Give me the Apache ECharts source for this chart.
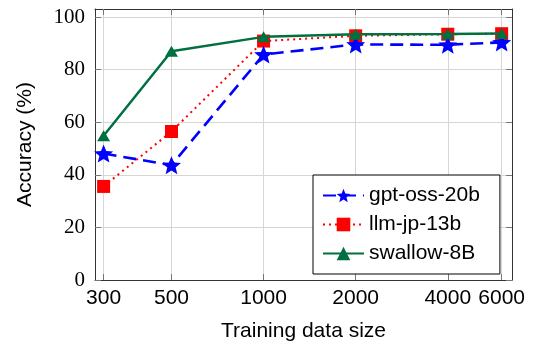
<!DOCTYPE html>
<html>
<head>
<meta charset="utf-8">
<script src="https://cdn.jsdelivr.net/npm/echarts@6/dist/echarts.min.js"></script>
<style>
    html, body { margin: 0; padding: 0; background: #fff; }
    #chart { width: 533px; height: 347px; }
</style>
</head>
<body>
<div id="chart"></div>
<script>
    // training data sizes (x, log scale) and accuracy per model
    const sizes = [300, 500, 1000, 2000, 4000, 6000];
    const gptOss = [48.1, 43.7, 85.8, 89.6, 89.5, 90.4];
    const llmJp = [35.6, 56.5, 90.9, 92.9, 93.5, 93.7];
    const swallow = [54.9, 87.0, 92.5, 93.5, 93.6, 93.8];
    const yTicks = [0, 20, 40, 60, 80, 100];

    const logSizes = sizes.map(v => Math.log10(v));
    const xMin = 2.449, xMax = 3.812;
    const yMin = 0, yMax = 103.1;

    const starPath = 'path://M0,-10L2.6,-3.5L9.51,-3.09L4.2,1.4L5.88,8.09L0,4.4L-5.88,8.09L-4.2,1.4L-9.51,-3.09L-2.6,-3.5Z';
    const sans = 'Liberation Sans';
    const serif = 'Liberation Serif';

    const toPoints = vals => vals.map((v, i) => [logSizes[i], v]);

    const tickStyle = {
        show: true,
        inside: true,
        length: 6,
        lineStyle: { color: '#777', width: 1 }
    };
    const borderLine = { show: true, onZero: false, lineStyle: { color: '#333', width: 1 } };

    const chart = echarts.init(document.getElementById('chart'));
    chart.setOption({
        animation: false,
        grid: { left: 95, right: 21, top: 9, bottom: 64, containLabel: false },
        legend: {
            orient: 'vertical',
            left: 313,
            top: 175,
            backgroundColor: '#fff',
            borderColor: '#000',
            borderWidth: 1,
            borderRadius: 0,
            padding: [10, 20, 10, 9],
            itemGap: 8,
            itemWidth: 41,
            itemHeight: 17,
            textStyle: { fontFamily: sans, fontSize: 21, color: '#000' },
            data: ['gpt-oss-20b', 'llm-jp-13b', 'swallow-8B']
        },
        xAxis: [{
            type: 'value',
            min: xMin,
            max: xMax,
            name: 'Training data size',
            nameLocation: 'middle',
            nameGap: 41,
            nameTextStyle: { fontFamily: sans, fontSize: 21, color: '#000' },
            axisLine: borderLine,
            axisTick: Object.assign({}, tickStyle, { customValues: logSizes }),
            axisLabel: {
                customValues: logSizes,
                formatter: v => String(Math.round(Math.pow(10, v))),
                fontFamily: sans,
                fontSize: 21,
                color: '#000',
                margin: 8
            },
            splitLine: { show: true, lineStyle: { color: '#d6d6d6', width: 1 } }
        }, {
            type: 'value',
            position: 'top',
            min: xMin,
            max: xMax,
            axisLine: borderLine,
            axisTick: Object.assign({}, tickStyle, { customValues: logSizes }),
            axisLabel: { show: false },
            splitLine: { show: false }
        }],
        yAxis: [{
            type: 'value',
            min: yMin,
            max: yMax,
            interval: 20,
            name: 'Accuracy (%)',
            nameLocation: 'middle',
            nameGap: 59,
            nameTextStyle: { fontFamily: sans, fontSize: 21, color: '#000' },
            axisLine: borderLine,
            axisTick: Object.assign({}, tickStyle, { customValues: yTicks }),
            axisLabel: {
                customValues: yTicks,
                fontFamily: serif,
                fontSize: 21,
                color: '#000',
                margin: 10
            },
            splitLine: { show: true, lineStyle: { color: '#d6d6d6', width: 1 } }
        }, {
            type: 'value',
            position: 'right',
            min: yMin,
            max: yMax,
            interval: 20,
            axisLine: borderLine,
            axisTick: Object.assign({}, tickStyle, { customValues: yTicks }),
            axisLabel: { show: false },
            splitLine: { show: false }
        }],
        series: [{
            name: 'gpt-oss-20b',
            type: 'line',
            data: toPoints(gptOss),
            symbol: starPath,
            symbolSize: [19, 18],
            z: 4,
            itemStyle: { color: '#0000ff' },
            lineStyle: { color: '#0000ff', width: 2.6, type: [13, 7] }
        }, {
            name: 'llm-jp-13b',
            type: 'line',
            data: toPoints(llmJp),
            symbol: 'rect',
            symbolSize: 13,
            z: 3,
            itemStyle: { color: '#ff0000' },
            lineStyle: { color: '#ff0000', width: 2, type: [2, 4] }
        }, {
            name: 'swallow-8B',
            type: 'line',
            data: toPoints(swallow),
            symbol: 'triangle',
            symbolSize: [13, 11],
            z: 5,
            itemStyle: { color: '#007040' },
            lineStyle: { color: '#007040', width: 2.5 }
        }]
    });
</script>
</body>
</html>
